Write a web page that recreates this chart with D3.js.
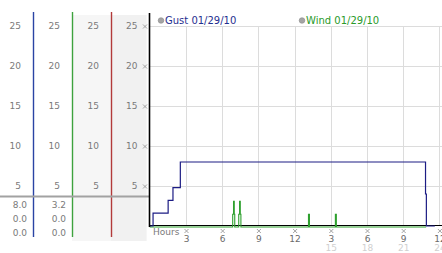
<!DOCTYPE html>
<html>
<head>
  <meta charset="UTF-8">
  <title>Wind chart</title>
  <script src="https://d3js.org/d3.v7.min.js"></script>
  <style>
    body { margin: 0; background: #fff; }
    svg { display: block; font-family: "DejaVu Sans", sans-serif; }
    .num { font-size: 9px; fill: #7a7a7a; }
    .grid line { stroke: #dcdcdc; stroke-width: 1; shape-rendering: crispEdges; }
    .mark { stroke: #9a9a9a; stroke-width: 0.9; }
  </style>
</head>
<body>

<div class="chart"></div>

<script>
  // values
  var yTicks = [5, 10, 15, 20, 25];
  var xTicks = [3, 6, 9, 12, 15, 18, 21, 24];
  var seriesNames = ['Gust 01/29/10', 'Wind 01/29/10'];
  var seriesColors = ['#1c1c84', '#2ea02e'];

  var gustHours  = [0, 0.27, 1.52, 1.92, 2.53, 22.85, 22.92, 23.62];
  var gustValues = [0, 1.6,  3.2,  4.8,  8.0,  4.0,   0,     0];

  var windHours  = [0, 6.87, 6.94, 7.0, 7.04, 7.37, 7.44, 7.5, 7.55, 13.15, 13.23, 15.38, 15.46, 22.9];
  var windValues = [0, 1.6,  3.2,  1.6, 0,    1.6,  3.2,  1.6, 0,    1.6,   0,     1.6,   0,     0];

  var gustStats = ['8.0', '0.0', '0.0'];
  var windStats = ['3.2', '0.0', '0.0'];

  var W = 442, H = 253;
  var plotLeft = 149.5, plotRight = 442, plotTop = 26, plotBottom = 226;

  var svg = d3.select('.chart')
    .append('svg')
      .attr('width', W)
      .attr('height', H);

  var x = d3.scaleLinear().domain([0, 24]).range([plotLeft + 0.3, 439.4]);
  var y = d3.scaleLinear().domain([0, 25]).range([plotBottom, plotTop]);

  // left panel columns: separators
  var colEdge = d3.scaleLinear().domain([0, 1]).range([33, 72]); // column i starts at colEdge(i-1)
  var sepColors = ['#2a44a4', '#3ea23e', '#b23a3a'];

  // shaded columns 3 and 4
  svg.append('rect')
    .attr('x', colEdge(1)).attr('y', 15)
    .attr('width', plotLeft - 3 - colEdge(1)).attr('height', 226)
    .attr('fill', '#f6f6f6');
  svg.append('rect')
    .attr('x', colEdge(2)).attr('y', 15)
    .attr('width', plotLeft - 3 - colEdge(2)).attr('height', 226)
    .attr('fill', '#f1f1f1');

  sepColors.forEach(function (c, i) {
    svg.append('line')
      .attr('x1', colEdge(i) + 0.5).attr('x2', colEdge(i) + 0.5)
      .attr('y1', 12).attr('y2', 237)
      .attr('stroke', c).attr('stroke-width', 1.4);
  });

  // column value labels
  for (var c = 0; c < 4; c++) {
    var right = (c < 3 ? colEdge(c) : plotLeft) - 12;
    svg.selectAll(null)
      .data(yTicks)
      .enter()
      .append('text')
        .attr('class', 'num')
        .attr('x', right)
        .attr('y', d => y(d) + 3.3)
        .attr('text-anchor', 'end')
        .text(d => d);
  }

  // separator above the stats
  svg.append('line')
    .attr('x1', 0).attr('x2', plotLeft)
    .attr('y1', 196.5).attr('y2', 196.5)
    .attr('stroke', '#a2a2a2').attr('stroke-width', 2);

  var statY = d3.scalePoint().domain([0, 1, 2]).range([205, 233]);
  [gustStats, windStats].forEach(function (stats, i) {
    svg.selectAll(null)
      .data(stats)
      .enter()
      .append('text')
        .attr('class', 'num')
        .attr('x', colEdge(i) - 6)
        .attr('y', (d, j) => statY(j) + 3.3)
        .attr('text-anchor', 'end')
        .text(d => d);
  });

  // grid
  var grid = svg.append('g').attr('class', 'grid');
  grid.selectAll('.hg')
    .data(yTicks)
    .enter()
    .append('line')
      .attr('x1', plotLeft).attr('x2', plotRight)
      .attr('y1', d => Math.round(y(d)) + 0.5).attr('y2', d => Math.round(y(d)) + 0.5);
  grid.selectAll('.vg')
    .data(xTicks)
    .enter()
    .append('line')
      .attr('x1', d => Math.round(x(d)) + 0.5).attr('x2', d => Math.round(x(d)) + 0.5)
      .attr('y1', plotTop).attr('y2', plotBottom);

  // small tick marks
  function mark(g) {
    g.append('path').attr('class', 'mark').attr('d', 'M-2,-2L2,2M-2,2L2,-2');
  }
  svg.selectAll('.ym')
    .data(yTicks)
    .enter()
    .append('g')
      .attr('transform', d => 'translate(145,' + (y(d) + 0.5) + ')')
      .call(mark);
  svg.selectAll('.xm')
    .data(xTicks)
    .enter()
    .append('g')
      .attr('transform', d => 'translate(' + (x(d) + 0.5) + ',231)')
      .call(mark);

  // x tick labels
  svg.selectAll('.xl')
    .data(xTicks)
    .enter()
    .append('text')
      .attr('class', 'num')
      .attr('x', d => x(d) + 0.5)
      .attr('y', 241.5)
      .attr('text-anchor', 'middle')
      .attr('fill', '#666')
      .style('fill', '#6a6a6a')
      .text(d => d > 12 ? d - 12 : d);
  svg.selectAll('.xl2')
    .data(xTicks.filter(d => d > 12))
    .enter()
    .append('text')
      .attr('class', 'num')
      .attr('x', d => x(d) + 0.5)
      .attr('y', 250.5)
      .attr('text-anchor', 'middle')
      .style('fill', '#d0d0d0')
      .text(d => d);
  svg.append('text')
    .attr('class', 'num')
    .attr('x', 153)
    .attr('y', 235)
    .style('fill', '#7a7a7a')
    .text('Hours');

  // series
  var line = d3.line()
    .x(d => x(d[0]))
    .y(d => y(d[1]))
    .curve(d3.curveStepAfter);

  var gust = d3.zip(gustHours, gustValues);
  var wind = d3.zip(windHours, windValues);

  // axes
  svg.append('line')
    .attr('x1', plotLeft).attr('x2', plotRight)
    .attr('y1', plotBottom - 0.5).attr('y2', plotBottom - 0.5)
    .attr('stroke', '#000').attr('stroke-width', 1.2);

  svg.append('path')
    .datum(wind)
    .attr('fill', 'none')
    .attr('stroke', seriesColors[1])
    .attr('stroke-width', 1.1)
    .attr('transform', 'translate(0,1)')
    .attr('d', line);

  svg.append('path')
    .datum(gust)
    .attr('fill', 'none')
    .attr('stroke', seriesColors[0])
    .attr('stroke-width', 1.2)
    .attr('d', line);

  svg.append('line')
    .attr('x1', plotLeft).attr('x2', plotLeft)
    .attr('y1', 13).attr('y2', plotBottom + 1)
    .attr('stroke', '#000').attr('stroke-width', 1.6);

  // legend
  var legendX = d3.scalePoint().domain(seriesNames).range([161, 302]);
  var leg = svg.selectAll('.leg')
    .data(seriesNames)
    .enter()
    .append('g')
      .attr('transform', d => 'translate(' + legendX(d) + ',20.5)');
  leg.append('circle')
    .attr('r', 2.8)
    .attr('fill', '#a4a4a4')
    .attr('stroke', '#8a8a8a')
    .attr('stroke-width', 0.6);
  leg.append('text')
    .attr('x', 4)
    .attr('y', 3.6)
    .style('font-size', '10px')
    .attr('fill', (d, i) => seriesColors[i] === '#1c1c84' ? '#1f2f8f' : '#2a9a2a')
    .text(d => d);
</script>

</body>
</html>
